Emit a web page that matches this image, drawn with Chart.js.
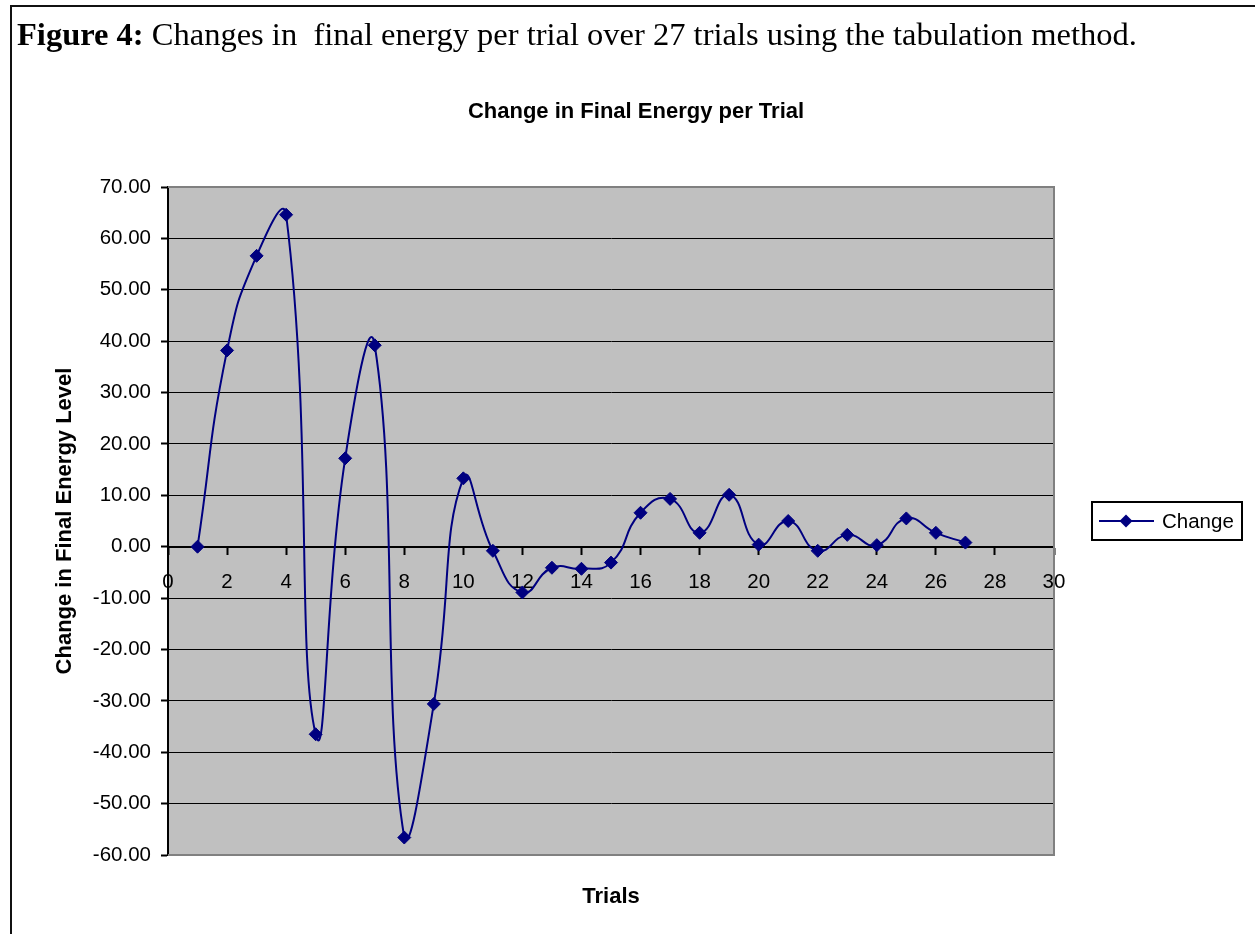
<!DOCTYPE html>
<html>
<head>
<meta charset="utf-8">
<script src="https://cdn.jsdelivr.net/npm/chart.js@4.4.1/dist/chart.umd.min.js"></script>
<style>
  html, body { margin: 0; background: #fff; overflow: hidden; }
  #moldura { position: absolute; left: 10px; top: 5px; width: 1300px; height: 1000px; border-top: 2px solid #111; border-left: 2px solid #111; }
  #legendaFig { position: absolute; left: 17px; top: 16px; font: 32.5px "Liberation Serif", "Times New Roman", serif; white-space: pre; color: #000; }
  canvas { position: absolute; left: 0; top: 0; }
</style>
</head>
<body>
<div id="moldura"></div>
<canvas id="myChart" width="1255" height="934"></canvas>
<div id="legendaFig"><b>Figure 4:</b> Changes in  final energy per trial over 27 trials using the tabulation method.</div>
<script>
const trials = [1, 2, 3, 4, 5, 6, 7, 8, 9, 10, 11, 12, 13, 14, 15, 16, 17, 18, 19, 20, 21, 22, 23, 24, 25, 26, 27]
const changes = [0.0, 38.2, 56.6, 64.6, -36.5, 17.2, 39.2, -56.6, -30.6, 13.3, -0.8, -8.9, -4.1, -4.3, -3.1,
  6.6, 9.3, 2.7, 10.1, 0.4, 5.0, -0.8, 2.3, 0.3, 5.5, 2.7, 0.8]
const xLimites = [0, 30]
const xPasso = 2
const yLimites = [-60, 70]
const yPasso = 10

const serieNome = 'Change'
const titulo = 'Change in Final Energy per Trial'
const tituloX = 'Trials'
const tituloY = 'Change in Final Energy Level'

const azul = '#000080'

Chart.defaults.font.family = '"Liberation Sans", Arial, sans-serif'
Chart.defaults.color = '#000'

// fundo cinza e moldura do plot (estilo Excel)
const fundoPlot = {
  id: 'fundoPlot',
  beforeDraw(chart) {
    const { ctx, chartArea: a } = chart
    ctx.save()
    ctx.fillStyle = '#c0c0c0'
    ctx.fillRect(a.left, a.top, a.width, a.height)
    ctx.restore()
  },
  beforeDatasetsDraw(chart) {
    const { ctx, chartArea: a } = chart
    ctx.save()
    ctx.strokeStyle = '#808080'
    ctx.lineWidth = 2
    ctx.beginPath()
    ctx.moveTo(a.left, a.top)
    ctx.lineTo(a.right, a.top)
    ctx.lineTo(a.right, a.bottom)
    ctx.lineTo(a.left, a.bottom)
    ctx.stroke()
    ctx.restore()
  }
}

// legenda com linha + losango dentro de uma caixa
const legendaCaixa = {
  id: 'legendaCaixa',
  afterDraw(chart) {
    const { ctx, chartArea: a } = chart
    const ds = chart.data.datasets[0]
    const cy = (a.top + a.bottom) / 2
    const x0 = a.right + 38
    ctx.save()
    ctx.strokeStyle = '#000'
    ctx.lineWidth = 2
    ctx.strokeRect(x0, cy - 19, 150, 38)
    ctx.strokeStyle = ds.borderColor
    ctx.lineWidth = 2
    ctx.beginPath()
    ctx.moveTo(x0 + 7, cy)
    ctx.lineTo(x0 + 62, cy)
    ctx.stroke()
    const r = 6.5
    const px = x0 + 34
    ctx.fillStyle = ds.backgroundColor
    ctx.beginPath()
    ctx.moveTo(px - r, cy)
    ctx.lineTo(px, cy - r)
    ctx.lineTo(px + r, cy)
    ctx.lineTo(px, cy + r)
    ctx.closePath()
    ctx.fill()
    ctx.fillStyle = '#000'
    ctx.font = '20.5px "Liberation Sans", Arial, sans-serif'
    ctx.textBaseline = 'middle'
    ctx.fillText(ds.label, x0 + 70, cy + 1)
    ctx.restore()
  }
}

const semNada = {
  ticks: { display: false },
  grid: { display: false, drawTicks: false },
  border: { display: false }
}

new Chart(document.getElementById('myChart'), {
  type: 'line',
  data: {
    datasets: [{
      label: serieNome,
      data: trials.map((t, i) => ({ x: t, y: changes[i] })),
      borderColor: azul,
      backgroundColor: azul,
      borderWidth: 2,
      pointStyle: 'rectRot',
      pointRadius: 6.5,
      pointBorderWidth: 1,
      tension: 0.5
    }]
  },
  options: {
    responsive: false,
    animation: false,
    layout: { padding: { left: 17, top: 99, right: 0, bottom: 21 } },
    plugins: {
      legend: { display: false },
      tooltip: { enabled: false },
      title: {
        display: true,
        text: titulo,
        color: '#000',
        font: { size: 22, weight: 'bold' },
        padding: { top: 0, bottom: 61.6 }
      }
    },
    scales: {
      x: {
        type: 'linear',
        position: { y: 0 },
        min: xLimites[0],
        max: xLimites[1],
        ticks: { stepSize: xPasso, autoSkip: false, maxRotation: 0, padding: 16, font: { size: 20.5 } },
        grid: { drawOnChartArea: false, tickLength: 7, tickWidth: 2, tickColor: '#000', color: '#000' },
        border: { color: '#000', width: 2 }
      },
      xTitulo: {
        type: 'linear',
        axis: 'x',
        position: 'bottom',
        fullSize: false,
        ...semNada,
        title: { display: true, text: tituloX, color: '#000', font: { size: 22, weight: 'bold' }, padding: { top: 28.8, bottom: 2.8 } }
      },
      y: {
        min: yLimites[0],
        max: yLimites[1],
        ticks: { stepSize: yPasso, padding: 10, font: { size: 20.5 }, callback: (v) => v.toFixed(2) },
        grid: { color: '#000', lineWidth: 1, tickLength: 7, tickWidth: 2, tickColor: '#000' },
        border: { color: '#000', width: 2 },
        title: { display: true, text: tituloY, color: '#000', font: { size: 22, weight: 'bold' }, padding: { top: 35, bottom: 0 } },
        afterFit: (s) => { s.width = 151 }
      },
      yDir: {
        type: 'linear',
        axis: 'y',
        position: 'right',
        ...semNada,
        afterFit: (s) => { s.width = 201 }
      }
    }
  },
  plugins: [fundoPlot, legendaCaixa]
})
</script>
</body>
</html>
